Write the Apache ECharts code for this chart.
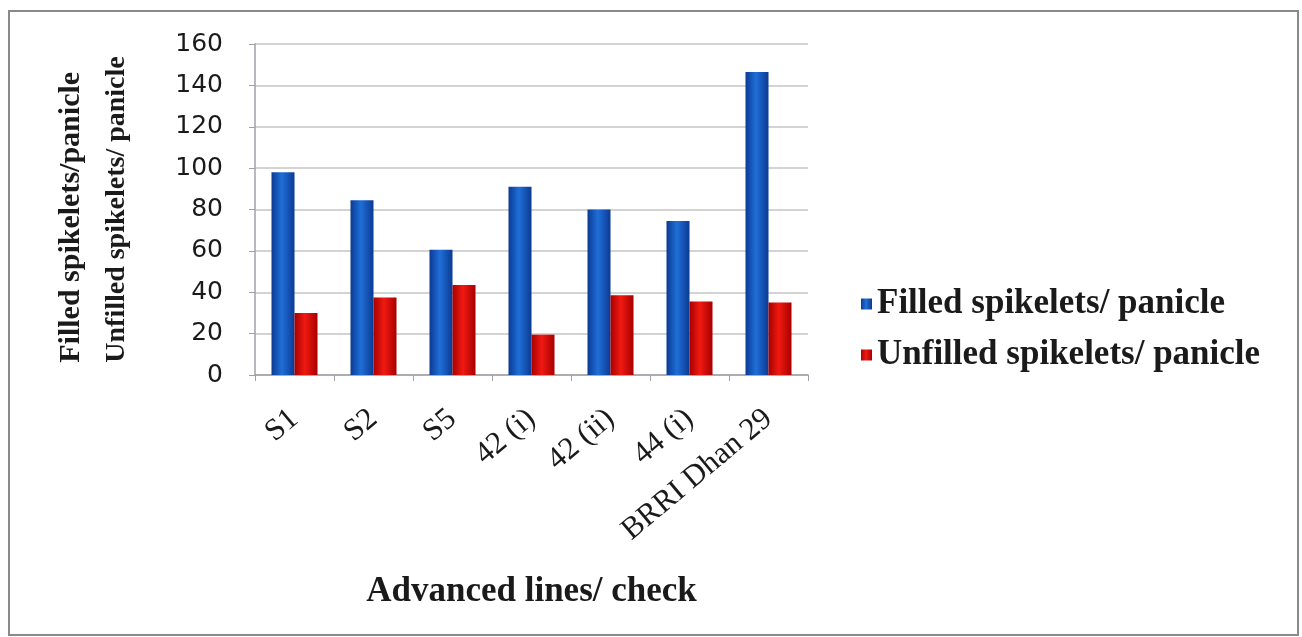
<!DOCTYPE html>
<html>
<head>
<meta charset="utf-8">
<script src="https://cdn.jsdelivr.net/npm/echarts@6/dist/echarts.min.js"></script>
<style>
  html, body { margin: 0; padding: 0; background: #fff; }
  #main { width: 1302px; height: 637px; }
</style>
</head>
<body>
<div id="main"></div>
<script type="text/javascript">
    // data
    var lines = ['S1', 'S2', 'S5', '42 (i)', '42 (ii)', '44 (i)', 'BRRI Dhan 29'];
    var filled = [98, 84.5, 60.5, 91, 80, 74.5, 146.5];
    var unfilled = [30, 37.5, 43.5, 19.5, 38.5, 35.5, 35];
    var yTicks = [0, 20, 40, 60, 80, 100, 120, 140, 160];

    var serif = '"Liberation Serif", "DejaVu Serif", serif';

    function barGrad(edge, mid) {
        return new echarts.graphic.LinearGradient(0, 0, 1, 0, [
            { offset: 0, color: edge },
            { offset: 0.45, color: mid },
            { offset: 1, color: edge }
        ]);
    }

    var myChart = echarts.init(document.getElementById('main'));
    var option = {
        backgroundColor: '#fff',
        animation: false,
        graphic: [{
            type: 'rect',
            shape: { x: 9, y: 11, width: 1289, height: 624 },
            style: { fill: 'none', stroke: '#8a8a8a', lineWidth: 2 }
        }],
        grid: {
            left: 255,
            right: 494,
            top: 44,
            bottom: 262
        },
        legend: {
            orient: 'vertical',
            left: 856,
            top: 281,
            itemWidth: 11,
            itemHeight: 11,
            itemGap: 15,
            icon: 'rect',
            textStyle: {
                fontFamily: serif,
                fontWeight: 'bold',
                fontSize: 35,
                lineHeight: 36,
                color: '#1a1a1a'
            },
            data: ['Filled spikelets/ panicle', 'Unfilled spikelets/ panicle']
        },
        xAxis: {
            type: 'category',
            data: lines,
            name: 'Advanced lines/ check',
            nameLocation: 'middle',
            nameGap: 199,
            nameTextStyle: {
                fontFamily: serif,
                fontWeight: 'bold',
                fontSize: 35,
                color: '#1a1a1a'
            },
            axisLine: { lineStyle: { color: '#a0a0a8', width: 1.5 } },
            axisTick: { show: true, length: 6, lineStyle: { color: '#a0a0a8' } },
            axisLabel: {
                rotate: 40,
                margin: 40,
                interval: 0,
                fontFamily: serif,
                fontSize: 31,
                color: '#1a1a1a'
            }
        },
        yAxis: {
            type: 'value',
            min: 0,
            max: 160,
            interval: 20,
            name: '{a|Filled spikelets/panicle}\n{b|Unfilled spikelets/ panicle}',
            nameLocation: 'middle',
            nameGap: 116,
            nameRotate: 90,
            nameTextStyle: {
                width: 305,
                align: 'center',
                rich: {
                    a: {
                        fontFamily: serif,
                        fontWeight: 'bold',
                        fontSize: 30,
                        lineHeight: 45,
                        color: '#1a1a1a',
                        align: 'left'
                    },
                    b: {
                        fontFamily: serif,
                        fontWeight: 'bold',
                        fontSize: 28,
                        lineHeight: 45,
                        color: '#1a1a1a',
                        align: 'left'
                    }
                }
            },
            axisLine: { show: true, lineStyle: { color: '#a0a0a8', width: 1.5 } },
            axisTick: { show: true, length: 6, lineStyle: { color: '#a0a0a8' } },
            splitLine: { lineStyle: { color: '#c4c4c4', width: 1.5 } },
            axisLabel: {
                margin: 32,
                fontFamily: '"DejaVu Sans", sans-serif',
                fontSize: 25,
                color: '#1a1a1a',
                formatter: function (v) { return yTicks.indexOf(v) >= 0 ? String(v) : ''; }
            }
        },
        series: [
            {
                name: 'Filled spikelets/ panicle',
                type: 'bar',
                data: filled,
                barWidth: 23,
                barGap: '0%',
                itemStyle: { color: barGrad('#0b3a92', '#1f6fd8') }
            },
            {
                name: 'Unfilled spikelets/ panicle',
                type: 'bar',
                data: unfilled,
                barWidth: 23,
                barGap: '0%',
                itemStyle: { color: barGrad('#a80000', '#f01a12') }
            }
        ]
    };
    myChart.setOption(option);
</script>
</body>
</html>
